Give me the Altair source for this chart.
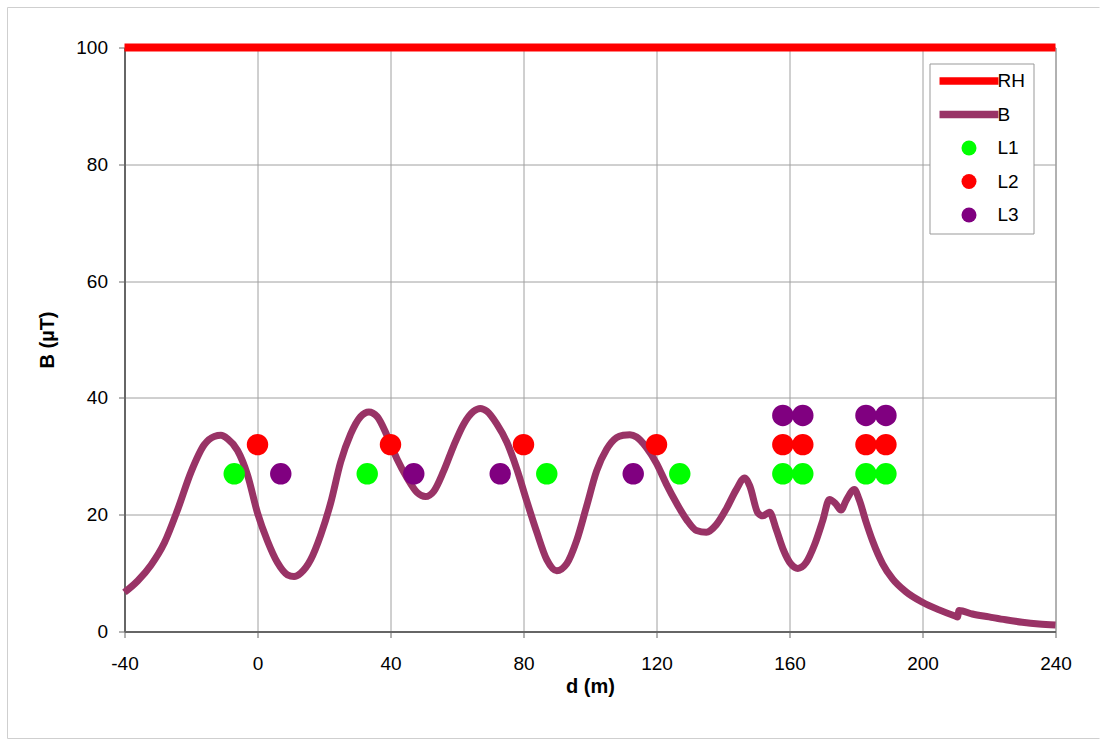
import altair as alt
import pandas as pd

# ---- data ----
rh_x = [-40, 240]
rh_y = [100, 100]

b_x = [-40, -36, -32, -28, -24, -20, -16, -13, -11, -9, -6, -3, 0, 3, 6, 9, 11, 13, 16, 19,
       22, 25, 28, 31, 33.5, 36, 39, 42, 45, 48, 50.5, 53, 56, 59, 62, 65, 67, 69, 72, 75,
       78, 81, 84, 87, 90, 93, 96, 99, 102, 105, 108, 110, 112, 114, 117, 120, 123, 126, 129, 132,
       135, 138, 141, 144, 146.5, 148, 150.5, 152, 154, 156, 158, 160.5, 162.5, 165, 167.5, 170, 172, 174, 175.5, 177,
       179.5, 181, 183, 185, 188, 191, 195, 200, 205, 210, 210.5, 211, 215, 220, 225, 230, 235, 240]
b_y = [6.7, 8.7, 11.4, 15.2, 20.9, 27.3, 32.0, 33.4, 33.6, 33.0, 31.0, 26.8, 20.3, 15.5, 11.8, 9.7, 9.4, 10.0, 12.3, 16.5,
       22.0, 29.0, 33.8, 36.8, 37.6, 36.8, 33.5, 29.5, 26.3, 23.8, 23.1, 24.0, 27.5, 31.8, 35.5, 37.7, 38.2, 37.7, 35.5, 32.4,
       27.8, 22.3, 17.0, 12.3, 10.4, 11.6, 15.6, 21.5, 27.5, 31.2, 33.2, 33.6, 33.7, 33.3, 31.5, 28.8, 25.2, 22.0, 19.2, 17.3,
       17.0, 18.3, 21.0, 24.3, 26.3, 25.0, 20.3, 19.8, 20.4, 17.5, 14.2, 11.5, 10.8, 11.8, 14.8, 19.0, 22.6, 21.8, 20.8, 22.4,
       24.3, 22.5, 18.8, 15.5, 11.6, 9.0, 6.8, 5.0, 3.7, 2.6, 2.5, 3.6, 3.0, 2.5, 2.0, 1.6, 1.3, 1.1]

l1_x = [-7, 33, 87, 127, 158, 164, 183, 189]
l1_y = [27, 27, 27, 27, 27, 27, 27, 27]
l2_x = [0, 40, 80, 120, 158, 164, 183, 189]
l2_y = [32, 32, 32, 32, 32, 32, 32, 32]
l3_x = [7, 47, 73, 113, 158, 164, 183, 189]
l3_y = [27, 27, 27, 27, 37, 37, 37, 37]

series_names = ["RH", "B", "L1", "L2", "L3"]
series_colors = ["#ff0000", "#993366", "#00ff00", "#ff0000", "#800080"]
x_ticks = [-40, 0, 40, 80, 120, 160, 200, 240]
y_ticks = [0, 20, 40, 60, 80, 100]

FONT = "Liberation Sans"

rh_df = pd.DataFrame({"d": rh_x, "B": rh_y})
b_df = pd.DataFrame({"d": b_x, "B": b_y})
pts_df = pd.concat([
    pd.DataFrame({"d": l1_x, "B": l1_y, "series": "L1"}),
    pd.DataFrame({"d": l2_x, "B": l2_y, "series": "L2"}),
    pd.DataFrame({"d": l3_x, "B": l3_y, "series": "L3"}),
], ignore_index=True)

xs = alt.Scale(domain=[-40, 240], nice=False, zero=False)
ys = alt.Scale(domain=[0, 100], nice=False)

x_axis = alt.Axis(values=x_ticks, title="d (m)", grid=True, tickSize=6, labelPadding=17,
                  titlePadding=3, labelFlush=False, labelExpr="toString(datum.value)")
y_axis = alt.Axis(values=y_ticks, title="B (µT)", grid=True, tickSize=6, labelPadding=11,
                  titlePadding=18, labelExpr="toString(datum.value)")

line_path = "M-3.93,-0.5H3.93V0.5H-3.93Z"

rh_line = alt.Chart(rh_df).mark_line(color="#ff0000", strokeWidth=8, strokeCap="butt").encode(
    x=alt.X("d:Q", scale=xs, axis=x_axis),
    y=alt.Y("B:Q", scale=ys, axis=y_axis),
)

b_line = alt.Chart(b_df).mark_line(color="#993366", strokeWidth=7, interpolate="monotone").encode(
    x=alt.X("d:Q", scale=xs),
    y=alt.Y("B:Q", scale=ys),
)

points = alt.Chart(pts_df).mark_point(filled=True, opacity=1, size=460, strokeWidth=0).encode(
    x=alt.X("d:Q", scale=xs),
    y=alt.Y("B:Q", scale=ys),
    color=alt.Color("series:N",
                    scale=alt.Scale(domain=series_names, range=series_colors),
                    legend=alt.Legend(title=None)),
    shape=alt.Shape("series:N",
                    scale=alt.Scale(domain=series_names,
                                    range=[line_path, line_path, "circle", "circle", "circle"]),
                    legend=alt.Legend(title=None)),
)

frame_src = alt.Data(values=[{"k": 1}])
frame_top = alt.Chart(frame_src).mark_rule(color="#cfcfcf", strokeWidth=1).encode(
    x=alt.value(-117), x2=alt.value(975), y=alt.value(-40))
frame_left = alt.Chart(frame_src).mark_rule(color="#cfcfcf", strokeWidth=1).encode(
    x=alt.value(-117), y=alt.value(-40), y2=alt.value(691))
frame_bottom = alt.Chart(frame_src).mark_rule(color="#cfcfcf", strokeWidth=1).encode(
    x=alt.value(-117), x2=alt.value(975), y=alt.value(691))

chart = alt.layer(frame_top, frame_left, frame_bottom, rh_line, b_line, points).properties(
    width=931, height=584,
    padding={"left": 6.5, "top": 6.5, "right": 0, "bottom": 0},
    background="white",
).configure_view(
    stroke="#888888", strokeWidth=1
).configure_axis(
    labelFont=FONT, labelFontSize=19, labelColor="#000000",
    titleFont=FONT, titleFontSize=20, titleFontWeight="bold", titleColor="#000000",
    gridColor="#a0a0a0", gridWidth=1,
    domainColor="#666666", domainWidth=2,
    tickColor="#666666", tickWidth=1,
).configure_legend(
    orient="none", legendX=805, legendY=16,
    padding=8, strokeColor="#999999", fillColor="white",
    symbolSize=225, symbolStrokeWidth=0, symbolOffset=22,
    labelFont=FONT, labelFontSize=19, labelColor="#000000",
    labelOffset=19, rowPadding=13.5,
)

chart.save("out.html", embed_options={"renderer": "svg", "actions": False})
